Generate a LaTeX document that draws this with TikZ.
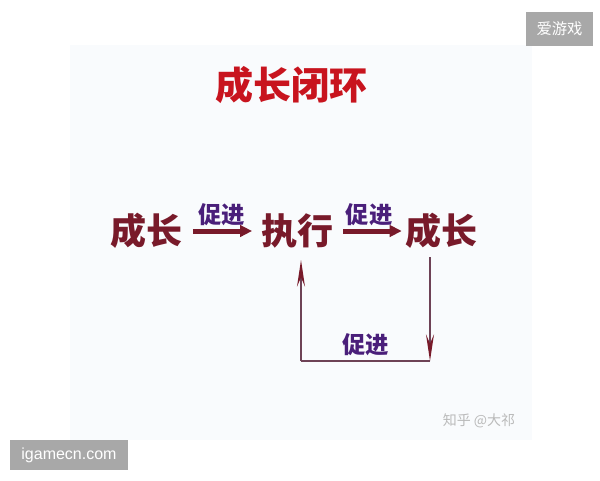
\documentclass[tikz,border=0pt]{standalone}
\usepackage{fontspec}
\setmainfont{Liberation Sans}
\newfontfamily\cjk{Noto Sans CJK SC}
\usetikzlibrary{
  arrows.meta,
  positioning
}
\definecolor{panelbg}{HTML}{F9FBFD}
\definecolor{titlered}{HTML}{C8141E}
\definecolor{stagered}{HTML}{781A2A}
\definecolor{pushpurple}{HTML}{4A1F7A}
\definecolor{loopline}{HTML}{6E4256}
\definecolor{markgray}{HTML}{A8A8A8}
\tikzset{
  % For the heading.
  heading/.style={
    font=\cjk\bfseries\fontsize{28.5pt}{32pt}\selectfont,
    text=titlered,
    inner sep=0pt},
%
  % For the stages of the loop.
  stage/.style={
    font=\cjk\bfseries\fontsize{27pt}{30pt}\selectfont,
    text=stagered,
    inner sep=0pt},
%
  % For the labels on the connectors.
  push label/.style={
    font=\cjk\bfseries\fontsize{17.5pt}{20pt}\selectfont,
    text=pushpurple,
    inner sep=1pt},
%
  % For the thick arrows between stages.
  thick arrow/.style={
    draw=stagered,
    line width=3.75pt,
    -{Triangle[length=9pt,width=8.5pt]}},
%
  % For the thin return path.
  loop line/.style={
    draw=loopline,
    line width=1.3pt},
  loop arrow/.style={
    loop line,
    -{Stealth[length=20pt,width=6pt,inset=7pt,color=stagered]}},
%
  % For the watermarks.
  mark box/.style={
    fill=markgray,
    text=white,
    inner sep=0pt},
}
\begin{document}
\begin{tikzpicture}[x=0.75pt,y=-0.75pt]
  \useasboundingbox (0,0) rectangle (600,480);
  \fill[panelbg] (70,45) rectangle (532,440);

  \node[heading] (title) at (291,85) {成长闭环};

  \node[stage] (grow) at (146,231) {成长};
  \node[stage] (exec) at (297,231) {执行};
  \node[stage] (grow') at (441,231) {成长};

  \draw[thick arrow, shorten <=8pt, shorten >=6.5pt] (grow) -- (exec)
    node[push label, midway, above=1pt] (push1) {促进};
  \draw[thick arrow, shorten <=7.5pt, shorten >=2.25pt] (exec) -- (grow')
    node[push label, midway, above=1pt] (push2) {促进};

  % The return path runs under the row, a little right of the stages.
  \coordinate (down top) at (430,257);
  \coordinate (down end) at (430,361);
  \coordinate (up end) at (301,361);
  \coordinate (up top) at (301,260);

  \draw[loop arrow] (down top) -- (down end);
  \draw[loop line] (down end) -- (up end)
    node[push label, midway, above=2pt] (push3) {促进};
  \draw[loop arrow] (up end) -- (up top);

  % Watermarks.
  \node[text=black!27, font=\cjk\fontsize{10.5pt}{12pt}\selectfont]
    (zhihu) at (479,421) {知乎 @大祁};
  \node[mark box, minimum width=50.25pt, minimum height=25.5pt,
    font=\cjk\fontsize{11.5pt}{13pt}\selectfont] (tag) at (559.5,29) {爱游戏};
  \node[mark box, minimum width=88.5pt, minimum height=22.5pt,
    font=\fontsize{12pt}{14pt}\selectfont] (site) at (69,455) {igamecn.com};
\end{tikzpicture}
\end{document}
